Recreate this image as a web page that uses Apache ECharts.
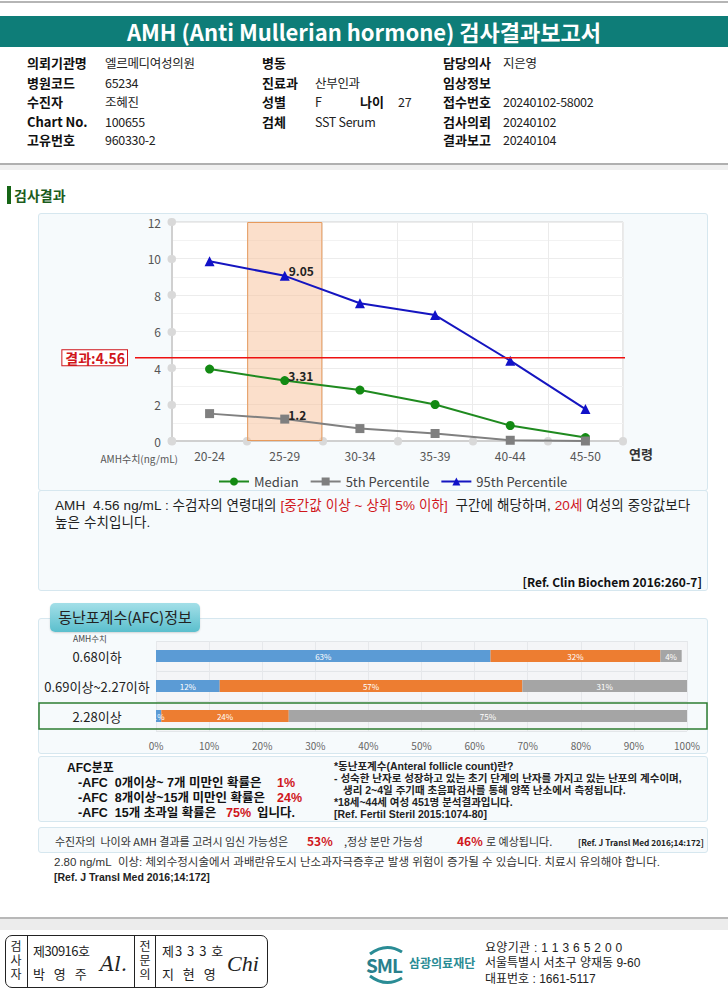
<!DOCTYPE html>
<html><head><meta charset="utf-8">
<script src="https://cdn.jsdelivr.net/npm/echarts@6/dist/echarts.min.js"></script>
<style>
body{margin:0;background:#fff;}
#page{position:relative;width:728px;height:998px;overflow:hidden;font-family:"Noto Sans CJK KR","Noto Sans",sans-serif;color:#222;}
.t{position:absolute;white-space:nowrap;height:16px;line-height:16px;}
.lb{font-weight:bold;font-size:13px;color:#111;}
.vl{font-size:12.5px;color:#222;letter-spacing:-0.3px;}
.box{position:absolute;box-sizing:border-box;border:1px solid #d6e7ef;background:#f6fafc;border-radius:3px;}
.red{color:#d0161b;}
.b{font-weight:bold;}
.tight{font-family:"Liberation Sans","Noto Sans CJK KR",sans-serif;}
.vc{position:absolute;width:20px;height:14px;line-height:14px;text-align:center;font-size:12px;font-family:"Liberation Sans","Noto Sans CJK KR",sans-serif;}
</style></head>
<body>
<div id="page">
  <div style="position:absolute;left:0;top:1px;width:728px;height:2px;background:#b5b5b5"></div>
  <div style="position:absolute;left:0;top:16px;width:728px;height:31px;background:#0e7d78"></div>
  <div class="t" style="left:0;width:728px;top:20px;height:22px;line-height:22px;text-align:center;color:#fff;font-weight:bold;font-size:22px;">AMH (Anti Mullerian hormone) 검사결과보고서</div>

  <!-- info table -->
  <div class="t lb" style="left:27px;top:55px">의뢰기관명</div><div class="t vl" style="left:105px;top:55px">엘르메디여성의원</div>
  <div class="t lb" style="left:27px;top:75px">병원코드</div><div class="t vl" style="left:105px;top:75px">65234</div>
  <div class="t lb" style="left:27px;top:94px">수진자</div><div class="t vl" style="left:105px;top:94px">조혜진</div>
  <div class="t lb" style="left:27px;top:114px">Chart No.</div><div class="t vl" style="left:105px;top:114px">100655</div>
  <div class="t lb" style="left:27px;top:132px">고유번호</div><div class="t vl" style="left:105px;top:132px">960330-2</div>

  <div class="t lb" style="left:262px;top:55px">병동</div>
  <div class="t lb" style="left:262px;top:75px">진료과</div><div class="t vl" style="left:315px;top:75px">산부인과</div>
  <div class="t lb" style="left:262px;top:94px">성별</div><div class="t vl" style="left:315px;top:94px">F</div>
  <div class="t lb" style="left:360px;top:94px">나이</div><div class="t vl" style="left:398px;top:94px">27</div>
  <div class="t lb" style="left:262px;top:114px">검체</div><div class="t vl" style="left:315px;top:114px">SST Serum</div>

  <div class="t lb" style="left:443px;top:55px">담당의사</div><div class="t vl" style="left:503px;top:55px">지은영</div>
  <div class="t lb" style="left:443px;top:75px">임상정보</div>
  <div class="t lb" style="left:443px;top:94px">접수번호</div><div class="t vl" style="left:503px;top:94px">20240102-58002</div>
  <div class="t lb" style="left:443px;top:114px">검사의뢰</div><div class="t vl" style="left:503px;top:114px">20240102</div>
  <div class="t lb" style="left:443px;top:132px">결과보고</div><div class="t vl" style="left:503px;top:132px">20240104</div>

  <div style="position:absolute;left:0;top:163px;width:728px;height:2px;background:#b0b0b0"></div>
  <div style="position:absolute;left:0;top:165px;width:728px;height:5px;background:#f0f0f0"></div>

  <!-- section title -->
  <div style="position:absolute;left:7px;top:186px;width:4px;height:18px;background:#166516"></div>
  <div class="t b" style="left:14px;top:187px;font-size:14px;color:#1c5c1c;">검사결과</div>

  <div class="box" style="left:38px;top:213px;width:670px;height:278px;"></div>
  <div class="box" style="left:38px;top:490px;width:670px;height:101px;"></div>
  <div id="c1" style="position:absolute;left:0;top:213px;width:728px;height:290px;"></div>

  <div id="desc" class="t tight" style="left:55px;top:498px;font-size:13.5px;color:#222;letter-spacing:0.1px"></div>
  <div class="t tight" style="left:55px;top:515px;font-size:13.5px;color:#222;letter-spacing:0.1px">높은 수치입니다.</div>
  <div class="t b" style="right:26px;top:574px;font-size:12px;color:#111;">[Ref. Clin Biochem 2016:260-7]</div>

  <!-- AFC -->
  <div class="box" style="left:38px;top:618px;width:670px;height:136px;"></div>
  <div style="position:absolute;left:50px;top:603px;width:150px;height:29px;border-radius:5px;background:linear-gradient(to bottom,#a3dfe8,#5bbfcd);box-shadow:0 1px 2px rgba(0,0,0,0.15);"></div>
  <div class="t" style="left:50px;width:150px;top:609px;text-align:center;font-size:15px;color:#222;">동난포계수(AFC)정보</div>
  <div class="t" style="left:73px;top:630px;font-size:8.5px;color:#444;">AMH수치</div>
  <div id="c2" style="position:absolute;left:0;top:618px;width:728px;height:140px;"></div>

  <div class="box" style="left:38px;top:756px;width:670px;height:66px;"></div>
  <div class="t b tight" style="left:67px;top:760px;font-size:12px;color:#111;">AFC분포</div>
  <div class="t b tight" style="left:78px;top:775px;font-size:12.5px;color:#111;">-AFC&nbsp; 0개이상~ 7개 미만인 확률은</div>
  <div class="t b red tight" style="left:277px;top:775px;font-size:12.5px;" id="afcP1"></div>
  <div class="t b tight" style="left:78px;top:790px;font-size:12.5px;color:#111;">-AFC&nbsp; 8개이상~15개 미만인 확률은</div>
  <div class="t b red tight" style="left:277px;top:790px;font-size:12.5px;" id="afcP2"></div>
  <div class="t b tight" style="left:78px;top:805px;font-size:12.5px;color:#111;">-AFC&nbsp; 15개 초과일 확률은</div>
  <div class="t b red tight" style="left:226px;top:805px;font-size:12.5px;" id="afcP3"></div>
  <div class="t b tight" style="left:257px;top:805px;font-size:12.5px;color:#111;">입니다.</div>

  <div class="t b tight" style="left:334px;top:758px;font-size:10.5px;color:#222;">*동난포계수(Anteral follicle count)란?</div>
  <div class="t b tight" style="left:334px;top:770px;font-size:10.5px;color:#222;">- 성숙한 난자로 성장하고 있는 초기 단계의 난자를 가지고 있는 난포의 계수이며,</div>
  <div class="t b tight" style="left:343px;top:782px;font-size:10.5px;color:#222;">생리 2~4일 주기때 초음파검사를 통해 양쪽 난소에서 측정됩니다.</div>
  <div class="t b tight" style="left:334px;top:794px;font-size:10.5px;color:#222;">*18세~44세 여성 451명 분석결과입니다.</div>
  <div class="t b tight" style="left:334px;top:806px;font-size:10.5px;color:#222;">[Ref. Fertil Steril 2015:1074-80]</div>

  <div class="box" style="left:38px;top:827px;width:670px;height:26px;"></div>
  <div class="t" style="left:55px;top:833px;font-size:11px;color:#333;">수진자의&nbsp; 나이와 AMH 결과를 고려시 임신 가능성은</div>
  <div class="t b red" style="left:307px;top:833px;font-size:12px;">53%</div>
  <div class="t" style="left:344px;top:833px;font-size:11px;color:#333;">,정상 분만 가능성</div>
  <div class="t b red" style="left:457px;top:833px;font-size:12px;">46%</div>
  <div class="t" style="left:486px;top:833px;font-size:11px;color:#333;">로 예상됩니다.</div>
  <div class="t b" style="left:578px;top:834px;font-size:8.3px;color:#222;">[Ref. J Transl Med 2016;14:172]</div>

  <div class="t tight" style="left:54px;top:854px;font-size:11.5px;color:#333;">2.80 ng/mL&nbsp; 이상: 체외수정시술에서 과배란유도시 난소과자극증후군 발생 위험이 증가될 수 있습니다. 치료시 유의해야 합니다.</div>
  <div class="t b tight" style="left:54px;top:869px;font-size:10.5px;color:#222;">[Ref. J Transl Med 2016;14:172]</div>

  <!-- footer -->
  <div style="position:absolute;left:0;top:917px;width:728px;height:2px;background:#b8b8b8"></div>
  <div style="position:absolute;left:0;top:919px;width:728px;height:11px;background:#ececec"></div>
  <div style="position:absolute;left:5px;top:935px;width:263px;height:53px;box-sizing:border-box;border:1px solid #222;border-radius:7px;"></div>
  <div style="position:absolute;left:27px;top:935px;width:1px;height:53px;background:#222"></div>
  <div style="position:absolute;left:134px;top:935px;width:1px;height:53px;background:#222"></div>
  <div style="position:absolute;left:155px;top:935px;width:1px;height:53px;background:#222"></div>
  <div class="vc" style="left:6px;top:940px">검</div>
  <div class="vc" style="left:6px;top:954px">사</div>
  <div class="vc" style="left:6px;top:968px">자</div>
  <div class="vc" style="left:135px;top:940px">전</div>
  <div class="vc" style="left:135px;top:954px">문</div>
  <div class="vc" style="left:135px;top:968px">의</div>
  <div class="t" style="left:33px;top:943px;font-size:13px;letter-spacing:-0.5px">제30916호</div>
  <div class="t" style="left:33px;top:966px;font-size:13px;letter-spacing:3px">박 영 주</div>
  <div class="t" style="left:100px;top:952px;height:24px;line-height:24px;font-size:20px;font-style:italic;font-family:'DejaVu Serif',serif;">Al.</div>
  <div class="t" style="left:162px;top:943px;font-size:13px;letter-spacing:1px">제3 3 3 호</div>
  <div class="t" style="left:162px;top:966px;font-size:13px;letter-spacing:3px">지 현 영</div>
  <div class="t" style="left:227px;top:952px;height:24px;line-height:24px;font-size:22px;font-style:italic;font-family:'Liberation Serif',serif;">Chi</div>

  <svg style="position:absolute;left:362px;top:940px" width="48" height="48">
    <path d="M8 14 Q24 2 40 12" stroke="#2a8c95" stroke-width="3" fill="none"/>
    <path d="M8 36 Q24 48 40 38" stroke="#2a8c95" stroke-width="3" fill="none"/>
  </svg>
  <div class="t b" style="left:366px;top:955px;height:20px;line-height:20px;font-size:19px;color:#2a7f8c;letter-spacing:-1px">SML</div>
  <div class="t b" style="left:409px;top:955px;font-size:12px;color:#2a8c95;">삼광의료재단</div>
  <div class="t tight" style="left:485px;top:940px;font-size:12px;color:#222;letter-spacing:0.3px">요양기관 : 1 1 3 6 5 2 0 0</div>
  <div class="t tight" style="left:485px;top:955px;font-size:12px;color:#222;">서울특별시 서초구 양재동 9-60</div>
  <div class="t tight" style="left:485px;top:971px;font-size:12px;color:#222;">대표번호 : 1661-5117</div>
</div>

<script>
// ---------- AMH chart data ----------
const categories = ['20-24', '25-29', '30-34', '35-39', '40-44', '45-50'];
const median = [3.94, 3.31, 2.79, 2.0, 0.85, 0.19];
const p5 = [1.5, 1.2, 0.68, 0.41, 0.04, 0.0];
const p95 = [9.85, 9.05, 7.55, 6.9, 4.4, 1.75];
const patientGroup = '25-29';
const resultValue = 4.56;
const yMin = 0, yMax = 12, yInterval = 2;

// ---------- AFC chart data ----------
const afcCategories = ['0.68이하', '0.69이상~2.27이하', '2.28이상'];
const afcUnder7 = [63, 12, 1];
const afc8to15 = [32, 57, 24];
const afcOver15 = [4, 31, 75];
const patientAfcRow = '2.28이상';
const afcTicks = [0, 10, 20, 30, 40, 50, 60, 70, 80, 90, 100];

const FONT = '"Noto Sans CJK KR","Noto Sans",sans-serif';

// description text
document.getElementById('desc').innerHTML =
  'AMH&nbsp; ' + resultValue + ' ng/mL : 수검자의 연령대의 <span class="red">[중간값 이상 ~ 상위 5% 이하]</span>&nbsp; 구간에 해당하며, <span class="red">20세</span> 여성의 중앙값보다';
const ri = afcCategories.indexOf(patientAfcRow);
document.getElementById('afcP1').textContent = afcUnder7[ri] + '%';
document.getElementById('afcP2').textContent = afc8to15[ri] + '%';
document.getElementById('afcP3').textContent = afcOver15[ri] + '%';

function withLabel(arr) {
  return arr.map((v, i) => categories[i] === patientGroup
    ? { value: v, label: { show: true } } : v);
}
const ptLabel = { show: false, position: 'right', offset: [-6, -5], color: '#222', fontSize: 12, fontWeight: 'bold', fontFamily: FONT };

const c1 = echarts.init(document.getElementById('c1'), null, { renderer: 'svg' });
const dotTick = { show: true, length: 0.5, lineStyle: { color: '#d9d9d9', width: 8, cap: 'round' } };
c1.setOption({
  animation: false,
  textStyle: { fontFamily: FONT },
  grid: { left: 172, top: 9, width: 451, height: 219, show: true, backgroundColor: '#fff', borderColor: '#d0d0d0', borderWidth: 1 },
  legend: {
    data: ['Median', '5th Percentile', '95th Percentile'],
    left: 213, top: 257, itemWidth: 30, itemHeight: 10, itemGap: 11,
    textStyle: { fontSize: 13, color: '#444', fontFamily: FONT }
  },
  xAxis: {
    type: 'category', data: categories, boundaryGap: true,
    axisLine: { lineStyle: { color: '#d0d0d0', width: 2 } },
    axisTick: dotTick,
    axisLabel: { color: '#555', fontSize: 12, margin: 8 },
    splitLine: { show: true, lineStyle: { color: '#ebebeb' } },
    name: '연령', nameLocation: 'end', nameGap: 6,
    nameTextStyle: { color: '#333', fontSize: 13, fontWeight: 'bold', verticalAlign: 'top', padding: [6, 0, 0, 0] }
  },
  yAxis: {
    type: 'value', min: yMin, max: yMax, interval: yInterval,
    axisLine: { show: true, lineStyle: { color: '#d0d0d0', width: 2 } },
    axisTick: dotTick,
    axisLabel: { color: '#555', fontSize: 12, margin: 11 },
    splitLine: { lineStyle: { color: '#ececec' } },
    minorTick: { show: false, splitNumber: 2 },
    minorSplitLine: { show: true, lineStyle: { color: '#f2f2f2' } },
    name: 'AMH수치(ng/mL)', nameLocation: 'start', nameGap: 12,
    nameTextStyle: { color: '#555', fontSize: 10, align: 'right', padding: [0, -6, 0, 0] }
  },
  series: [
    {
      name: '연령대', type: 'bar', silent: true, barWidth: '100%', z: 1,
      data: categories.map(c => c === patientGroup ? yMax : null),
      itemStyle: { color: 'rgba(248,196,160,0.55)', borderColor: '#e79a5c', borderWidth: 1 }
    },
    {
      name: 'Median', type: 'line', data: withLabel(median), z: 5,
      symbol: 'circle', symbolSize: 9, color: '#138a13',
      lineStyle: { width: 2, color: '#1f8a1f' }, label: ptLabel
    },
    {
      name: '5th Percentile', type: 'line', data: withLabel(p5), z: 5,
      symbol: 'rect', symbolSize: 9, color: '#7f7f7f',
      lineStyle: { width: 2, color: '#808080' }, label: ptLabel
    },
    {
      name: '95th Percentile', type: 'line', data: withLabel(p95), z: 5,
      symbol: 'triangle', symbolSize: 10, color: '#1111c8',
      lineStyle: { width: 2, color: '#1515c0' }, label: ptLabel
    }
  ]
});
const ry = c1.convertToPixel({ yAxisIndex: 0 }, resultValue);
c1.setOption({
  graphic: [
    { type: 'line', z: 50, shape: { x1: 135, y1: ry, x2: 625, y2: ry }, style: { stroke: '#ee1111', lineWidth: 1.5 } },
    { type: 'text', z: 50, x: 127, y: ry, style: {
        text: '결과:' + resultValue, fill: '#d0161b', font: 'bold 14px ' + FONT,
        align: 'right', verticalAlign: 'middle', backgroundColor: '#fff',
        borderColor: '#d0161b', borderWidth: 1, padding: [1, 2, 0, 3] } }
  ]
});

// ---------- AFC chart ----------
const c2 = echarts.init(document.getElementById('c2'), null, { renderer: 'svg' });
const barLabel = { show: true, position: 'inside', color: '#fff', fontSize: 8, formatter: '{c}%' };
c2.setOption({
  animation: false,
  textStyle: { fontFamily: FONT },
  grid: { left: 156, top: 23, width: 531, height: 90, show: true, backgroundColor: '#f4f5f7', borderWidth: 0 },
  xAxis: {
    type: 'value', min: afcTicks[0], max: afcTicks[afcTicks.length - 1], interval: afcTicks[1] - afcTicks[0],
    axisLine: { show: false }, axisTick: { show: false },
    axisLabel: { formatter: '{value}%', color: '#666', fontSize: 10, margin: 9 },
    splitLine: { show: true, lineStyle: { color: '#e6e8eb' } }
  },
  yAxis: {
    type: 'category', data: afcCategories, inverse: true,
    axisLine: { show: false }, axisTick: { show: false },
    axisLabel: { color: '#222', fontSize: 13, align: 'center', margin: 59 },
    splitLine: { show: true, lineStyle: { color: '#e3e6e9' } }
  },
  series: [
    { name: '0~7개', type: 'bar', stack: 'afc', barWidth: 12, data: afcUnder7, itemStyle: { color: '#5b9bd5' }, label: barLabel },
    { name: '8~15개', type: 'bar', stack: 'afc', barWidth: 12, data: afc8to15, itemStyle: { color: '#ed7d31' }, label: barLabel },
    { name: '15개 초과', type: 'bar', stack: 'afc', barWidth: 12, data: afcOver15, itemStyle: { color: '#a5a5a5' }, label: barLabel }
  ]
});
const hy = c2.convertToPixel({ yAxisIndex: 0 }, patientAfcRow);
c2.setOption({
  graphic: [
    { type: 'rect', z: 50, shape: { x: 39, y: hy - 13, width: 668, height: 26 },
      style: { fill: 'none', stroke: '#2e7d32', lineWidth: 1.5 } }
  ]
});
</script>
</body></html>
